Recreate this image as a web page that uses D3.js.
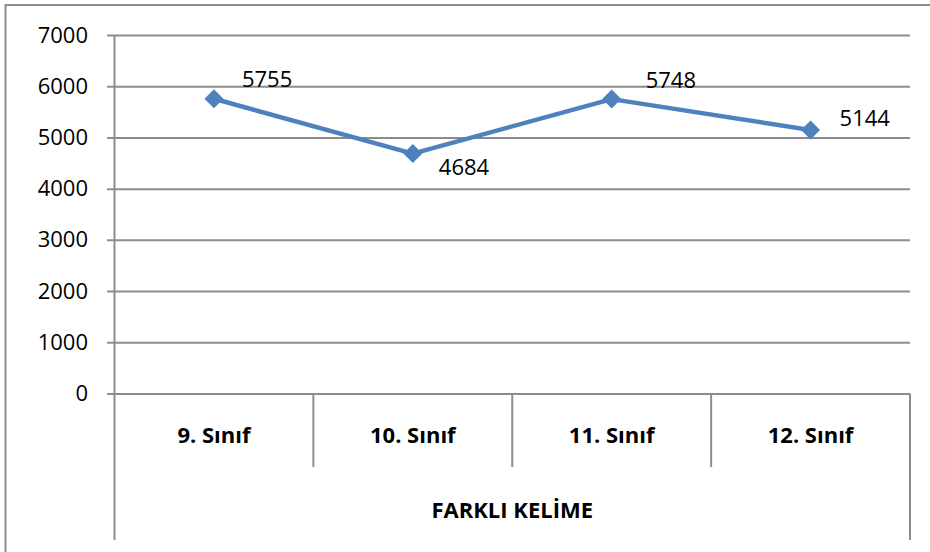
<!DOCTYPE html>
<html lang='tr'>
<head>
    <meta charset='UTF-8'>
    <title></title>
    <script src="https://cdn.jsdelivr.net/npm/d3@7/dist/d3.min.js"></script>
    <style>
        body { margin: 0; background: #fff; }
        text { font-family: 'Open Sans', sans-serif; fill: #000; }
    </style>
</head>
<body>
    <svg class="chart"></svg>
</body>
<script>
    // veriler
    const categories = ['9. Sınıf', '10. Sınıf', '11. Sınıf', '12. Sınıf'];
    const values = [5755, 4684, 5748, 5144];
    const yTicks = [0, 1000, 2000, 3000, 4000, 5000, 6000, 7000];
    const axisTitle = 'FARKLI KELİME';

    const width = 930, height = 552;
    const plotLeft = 114.5, plotRight = 910, plotTop = 35, plotBottom = 393.5;
    const gridColor = '#8c8c8c';
    const lineColor = '#4f81bd';

    const svg = d3.select('.chart')
        .attr('width', width)
        .attr('height', height);

    // dış çerçeve
    svg.append('rect')
        .attr('x', 5.5).attr('y', 5)
        .attr('width', 1000).attr('height', 1000)
        .attr('fill', 'none')
        .attr('stroke', gridColor)
        .attr('stroke-width', 2);

    const x = d3.scaleBand().domain(categories).range([plotLeft, plotRight]);
    const y = d3.scaleLinear().domain([0, 7000]).range([plotBottom, plotTop]);

    // yatay ızgara + tik çizgileri
    svg.append('g')
        .attr('transform', `translate(${plotLeft},0)`)
        .call(d3.axisLeft(y).tickValues(yTicks).tickFormat(d3.format('d'))
            .tickSize(-(plotRight - plotLeft)))
        .call(g => g.select('.domain').remove())
        .call(g => g.selectAll('.tick line')
            .attr('x1', -7.5)
            .attr('stroke', gridColor)
            .attr('stroke-width', 2))
        .call(g => g.selectAll('.tick text')
            .attr('x', -26.5)
            .style('font-family', "'Open Sans', sans-serif")
            .style('font-size', '22px')
            .attr('fill', '#000'));

    // dikey eksen ve kategori ayraçları
    const seps = [plotLeft, ...categories.slice(1).map(c => x(c)), plotRight];
    svg.append('g').selectAll('line')
        .data(seps)
        .enter().append('line')
        .attr('x1', d => d).attr('x2', d => d)
        .attr('y1', (d, i) => i === 0 ? plotTop : plotBottom)
        .attr('y2', (d, i) => (i === 0 || i === seps.length - 1) ? 540 : 467)
        .attr('stroke', gridColor)
        .attr('stroke-width', 2);

    // kategori etiketleri
    svg.append('g').selectAll('text')
        .data(categories)
        .enter().append('text')
        .attr('x', d => x(d) + x.bandwidth() / 2)
        .attr('y', 443)
        .attr('text-anchor', 'middle')
        .style('font-size', '22px')
        .style('font-weight', 'bold')
        .text(d => d);

    svg.append('text')
        .attr('x', (plotLeft + plotRight) / 2)
        .attr('y', 518)
        .attr('text-anchor', 'middle')
        .style('font-size', '22px')
        .style('font-weight', 'bold')
        .text(axisTitle);

    // çizgi
    const pts = values.map((v, i) => [x(categories[i]) + x.bandwidth() / 2, y(v)]);
    svg.append('path')
        .attr('d', d3.line()(pts))
        .attr('fill', 'none')
        .attr('stroke', lineColor)
        .attr('stroke-width', 4.5)
        .attr('stroke-linejoin', 'round');

    // elmas işaretler
    svg.append('g').selectAll('path')
        .data(pts)
        .enter().append('path')
        .attr('d', p => `M${p[0]},${p[1] - 9.5}L${p[0] + 9.5},${p[1]}L${p[0]},${p[1] + 9.5}L${p[0] - 9.5},${p[1]}Z`)
        .attr('fill', lineColor);

    // değer etiketleri (sağda, üst/alt)
    const labelOffset = [[28, -12], [26, 21], [34, -11], [29, -4]];
    svg.append('g').selectAll('text')
        .data(values)
        .enter().append('text')
        .attr('x', (d, i) => pts[i][0] + labelOffset[i][0])
        .attr('y', (d, i) => pts[i][1] + labelOffset[i][1])
        .style('font-size', '22px')
        .text(d => d);
</script>
</html>
